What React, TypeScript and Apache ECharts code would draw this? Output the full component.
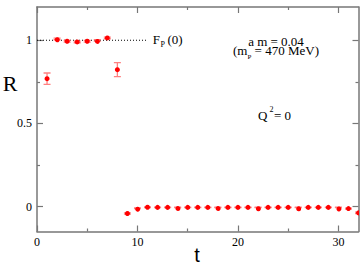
import React, { useEffect, useRef } from "react";
import * as echarts from "echarts";

const tValues = [1, 2, 3, 4, 5, 6, 7, 8, 9, 10, 11, 12, 13, 14, 15, 16, 17, 18, 19, 20, 21, 22, 23, 24, 25, 26, 27, 28, 29, 30, 31, 32];
const rValues = [0.769, 1.008, 0.994, 0.99, 0.994, 0.998, 1.014, 0.823, -0.042, -0.01, -0.004, -0.005, -0.005, -0.005, -0.005, -0.005, -0.005, -0.005, -0.005, -0.005, -0.005, -0.005, -0.005, -0.005, -0.005, -0.005, -0.005, -0.005, -0.005, -0.005, -0.012, -0.038];
const rErrors = [0.034, 0.005, 0.005, 0.005, 0.005, 0.005, 0.005, 0.042, 0.004, 0.002, 0.002, 0.002, 0.002, 0.002, 0.002, 0.002, 0.002, 0.002, 0.002, 0.002, 0.002, 0.002, 0.002, 0.002, 0.002, 0.002, 0.002, 0.002, 0.002, 0.002, 0.003, 0.004];
const xMajorTicks = [0, 10, 20, 30];
const xMinorTicks = [5, 15, 25];
const yMajorTicks = [0, 0.5, 1];
const yMinorTicks = [0.25, 0.75];
const refLine = [[0, 1], [11, 1]];

const SERIF = "'Liberation Serif', 'Times New Roman', 'DejaVu Serif', serif";
const SANS = "'Liberation Sans', Arial, sans-serif";
const AXIS_COLOR = "#777";

function makeX(pos: "bottom" | "top", ticks: number[], len: number, labels: boolean) {
  return {
    type: "value",
    position: pos,
    min: 0,
    max: 32,
    axisLine: { show: len > 4, onZero: false, lineStyle: { color: AXIS_COLOR, width: 1.5 } },
    axisTick: { show: true, inside: true, length: len, customValues: ticks, lineStyle: { color: AXIS_COLOR, width: 1.2 } },
    axisLabel: labels
      ? { show: true, customValues: ticks, margin: 4, color: "#000", fontFamily: SERIF, fontSize: 12 }
      : { show: false },
    splitLine: { show: false },
  };
}

function makeY(pos: "left" | "right", ticks: number[], len: number, labels: boolean) {
  return {
    type: "value",
    position: pos,
    min: -0.15,
    max: 1.2,
    axisLine: { show: len > 4, onZero: false, lineStyle: { color: AXIS_COLOR, width: 1.5 } },
    axisTick: { show: true, inside: true, length: len, customValues: ticks, lineStyle: { color: AXIS_COLOR, width: 1.2 } },
    axisLabel: labels
      ? { show: true, customValues: ticks, margin: 5, color: "#000", fontFamily: SERIF, fontSize: 12 }
      : { show: false },
    splitLine: { show: false },
  };
}

function txt(x: number, y: number, text: string, size: number, align: string = "left", family: string = SERIF) {
  return {
    type: "text",
    x,
    y,
    silent: true,
    style: { text, fill: "#000", fontFamily: family, fontSize: size, textAlign: align, textVerticalAlign: "middle" },
  };
}

export default function App() {
  const ref = useRef<HTMLDivElement>(null);
  useEffect(() => {
    if (!ref.current) return;
    const chart = echarts.init(ref.current, null, { renderer: "svg" });
    const bars = tValues.map((t, i) => [t, rValues[i], rValues[i] - rErrors[i], rValues[i] + rErrors[i]]);
    chart.setOption({
      animation: false,
      backgroundColor: "#fff",
      grid: { left: 37, right: 2.5, top: 7, bottom: 41.5, containLabel: false },
      xAxis: [
        makeX("bottom", xMajorTicks, 6, true),
        makeX("bottom", xMinorTicks, 3, false),
        makeX("top", xMajorTicks, 6, false),
        makeX("top", xMinorTicks, 3, false),
      ],
      yAxis: [
        makeY("left", yMajorTicks, 6, true),
        makeY("left", yMinorTicks, 3, false),
        makeY("right", yMajorTicks, 6, false),
        makeY("right", yMinorTicks, 3, false),
      ],
      series: [
        {
          type: "line",
          data: refLine,
          symbol: "none",
          lineStyle: { color: "#000", width: 1, type: [1, 2] },
          z: 1,
        },
        {
          type: "custom",
          data: bars,
          clip: true,
          z: 2,
          renderItem: (params: any, api: any) => {
            const t = api.value(0);
            const c = api.coord([t, api.value(1)]);
            const lo = api.coord([t, api.value(2)]);
            const hi = api.coord([t, api.value(3)]);
            const w = 3.5;
            const style = { stroke: "#ff8080", lineWidth: 1.3 };
            return {
              type: "group",
              children: [
                { type: "line", shape: { x1: lo[0], y1: lo[1], x2: hi[0], y2: hi[1] }, style },
                { type: "line", shape: { x1: lo[0] - w, y1: lo[1], x2: lo[0] + w, y2: lo[1] }, style },
                { type: "line", shape: { x1: hi[0] - w, y1: hi[1], x2: hi[0] + w, y2: hi[1] }, style },
                { type: "circle", shape: { cx: c[0], cy: c[1], r: 2.5 }, style: { fill: "#ff0000" } },
              ],
            };
          },
        },
      ],
      graphic: [
        txt(10, 83, "R", 22, "center"),
        txt(197, 255, "t", 20, "center", SANS),
        txt(152.7, 39.5, "F", 13),
        txt(160.5, 44.5, "P", 8),
        txt(167.5, 39.5, "(0)", 13),
        {
          type: "text",
          x: 276,
          y: 35,
          silent: true,
          style: {
            text: "{a|a m = 0.04}\n{a|(m}{s|P}{a| = 470 MeV)}",
            fill: "#000",
            fontFamily: SERIF,
            fontSize: 13,
            textAlign: "center",
            textVerticalAlign: "top",
            rich: {
              a: { fontFamily: SERIF, fontSize: 13, lineHeight: 9, verticalAlign: "top", fill: "#000" },
              s: { fontFamily: SERIF, fontSize: 7, lineHeight: 7, verticalAlign: "top", padding: [9.5, 0, 0, 0], fill: "#000" },
            },
          },
        },
        txt(258, 115.5, "Q", 13),
        txt(269.5, 109.5, "2", 8),
        txt(274, 115.5, "= 0", 13),
      ],
    });
    return () => chart.dispose();
  }, []);
  return <div ref={ref} style={{ width: 361, height: 273, position: "absolute", left: 0, top: 0 }} />;
}
